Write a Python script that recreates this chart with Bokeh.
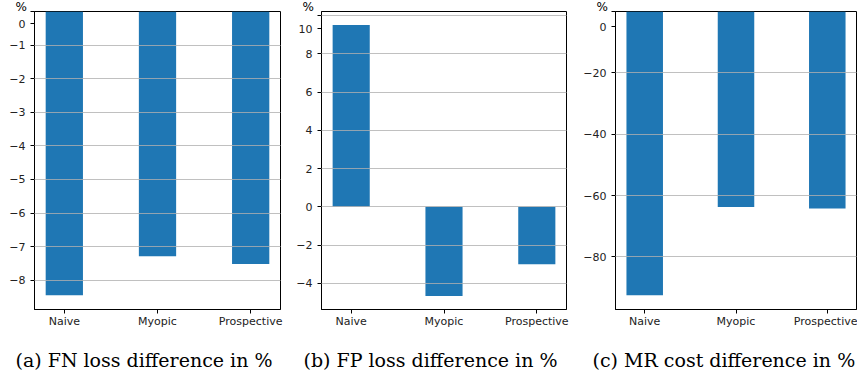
from bokeh.plotting import figure
from bokeh.models import Range1d, FixedTicker, Title
from bokeh.layouts import row
from bokeh.embed import file_html
from bokeh.resources import INLINE

categories = ["Naive", "Myopic", "Prospective"]
fn_loss_diff = [-8.45, -7.29, -7.52]
fp_loss_diff = [9.51, -4.66, -3.0]
mr_cost_diff = [-92.5, -63.7, -64.2]

fn_ticks = [0, -1, -2, -3, -4, -5, -6, -7, -8]
fp_ticks = [10, 8, 6, 4, 2, 0, -2, -4]
mr_ticks = [0, -20, -40, -60, -80]

captions = ["(a) FN loss difference in %",
            "(b) FP loss difference in %",
            "(c) MR cost difference in %"]

BAR = "#1f77b4"
TICK_FONT = "DejaVu Sans"
FRAME_H = 298


def fmt(v):
    return ("\u2212" + str(abs(v))) if v < 0 else str(v)


def panel(values, ticks, caption, frame_w, b_left, b_right, top_shift, cap_off):
    xs = list(range(len(categories)))
    lo = min(0, min(values))
    hi = max(0, max(values))
    span = hi - lo
    y0 = lo - 0.05 * span if lo < 0 else 0
    y1 = hi + 0.05 * span if hi > 0 else 0
    p = figure(output_backend="svg", toolbar_location=None,
               frame_width=frame_w, frame_height=FRAME_H,
               x_range=Range1d(-0.32, len(categories) - 1 + 0.32),
               y_range=Range1d(y0, y1),
               min_border_left=b_left, min_border_right=b_right,
               min_border_top=0, min_border_bottom=10)
    p.vbar(x=xs, top=values, bottom=0, width=0.4, fill_color=BAR, line_color=None)

    p.xgrid.visible = False
    p.ygrid.ticker = FixedTicker(ticks=ticks)
    p.ygrid.grid_line_color = "#b0b0b0"
    p.ygrid.grid_line_width = 0.8
    p.ygrid.level = "annotation"

    p.outline_line_color = "#000000"
    p.outline_line_width = 1
    p.outline_line_alpha = 1

    # the top tick label sits a little below its tick in the reference
    top_tick = max(ticks)
    shifted = top_tick - top_shift * (y1 - y0) / FRAME_H
    overrides = {v: fmt(v) for v in ticks}
    overrides[top_tick] = ""
    overrides[shifted] = fmt(top_tick)
    p.yaxis.ticker = FixedTicker(ticks=ticks + [shifted])
    p.yaxis.major_label_overrides = overrides
    p.xaxis.ticker = FixedTicker(ticks=xs)
    p.xaxis.major_label_overrides = {i: c for i, c in enumerate(categories)}
    for ax in (p.xaxis[0], p.yaxis[0]):
        ax.major_label_text_font = TICK_FONT
        ax.major_label_text_font_size = "11px"
        ax.major_label_text_color = "#222222"
        ax.axis_line_color = "#000000"
        ax.major_tick_line_color = "#000000"
        ax.major_tick_out = 4
        ax.major_tick_in = 0
        ax.minor_tick_line_color = None
    p.yaxis.major_label_standoff = 5
    p.xaxis.major_label_standoff = 1

    p.add_layout(Title(text="%", align="left", offset=-19, standoff=-5,
                       text_font=TICK_FONT, text_font_size="12px",
                       text_font_style="normal", text_color="#000000"), "above")
    p.add_layout(Title(text=caption, align="left", offset=cap_off,
                       text_font="DejaVu Serif", text_font_size="19px",
                       text_font_style="normal", text_color="#000000",
                       standoff=33), "below")
    return p


pa = panel(fn_loss_diff, fn_ticks, captions[0], 246, 34, 11, 12, -19)
pb = panel(fp_loss_diff, fp_ticks, captions[1], 245, 30, 14, 13, -18)
pc = panel(mr_cost_diff, mr_ticks, captions[2], 241, 35, 1, 15, -23)

layout = row(pa, pb, pc, spacing=0)
open("out.html", "w").write(file_html(layout, INLINE))
